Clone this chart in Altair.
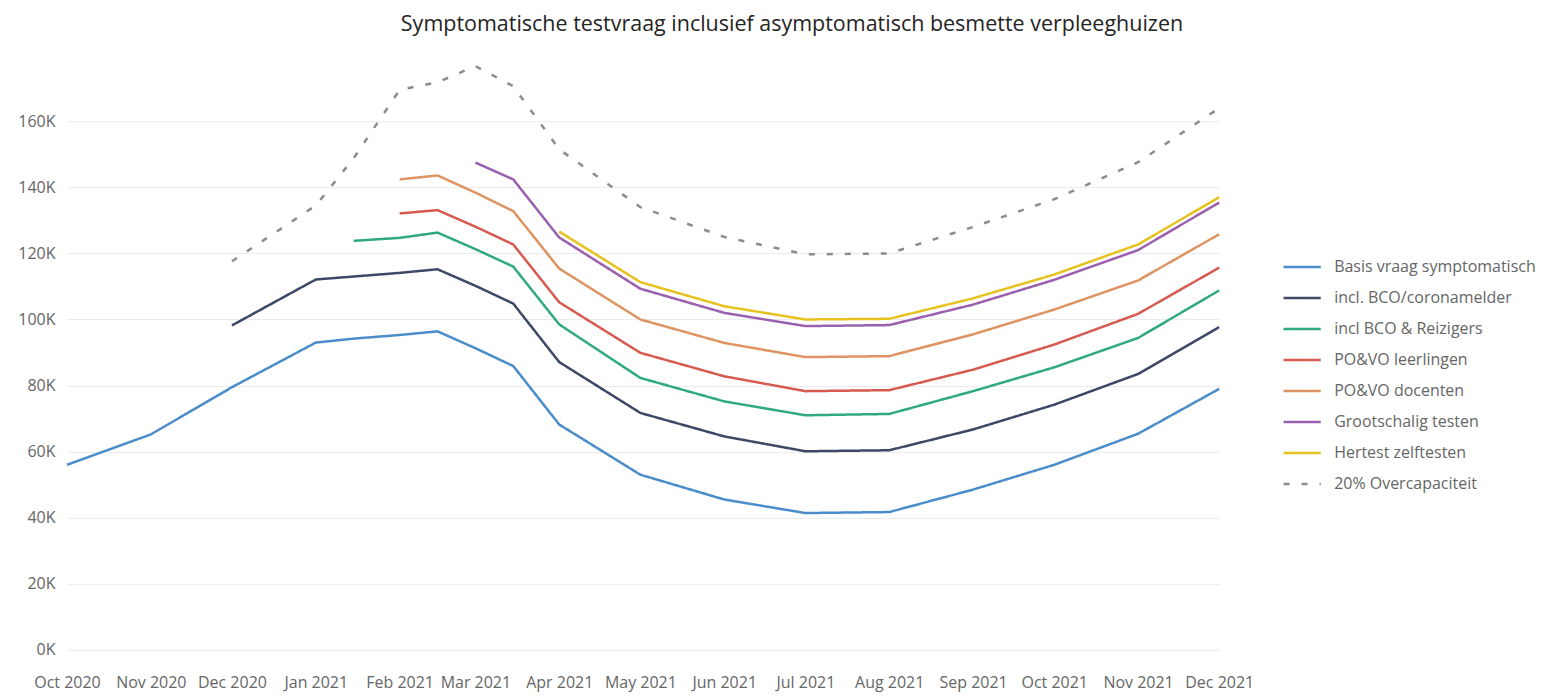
import altair as alt
import pandas as pd

title_text = "Symptomatische testvraag inclusief asymptomatisch besmette verpleeghuizen"

dates = ["2020-10-01", "2020-11-01", "2020-12-01", "2021-01-01", "2021-01-15",
         "2021-02-01", "2021-02-15", "2021-03-01", "2021-03-15", "2021-04-01",
         "2021-05-01", "2021-06-01", "2021-07-01", "2021-08-01", "2021-09-01",
         "2021-10-01", "2021-11-01", "2021-12-01"]

series_names = ["Basis vraag symptomatisch", "incl. BCO/coronamelder", "incl BCO & Reizigers",
                "PO&VO leerlingen", "PO&VO docenten", "Grootschalig testen",
                "Hertest zelftesten", "20% Overcapaciteit"]

# values in thousands (K)
basis = [56.0, 65.2, 79.5, 93.0, 94.2, 95.3, 96.4, 91.3, 85.9, 68.2, 53.0, 45.5, 41.4, 41.7, 48.5, 56.0, 65.4, 79.0]
bco = [None, None, 98.2, 112.1, 113.0, 114.1, 115.2, 110.2, 104.8, 87.1, 71.7, 64.6, 60.1, 60.4, 66.7, 74.2, 83.5, 97.7]
reizigers = [None, None, None, None, 123.8, 124.7, 126.3, 121.3, 116.0, 98.5, 82.3, 75.2, 71.0, 71.4, 78.3, 85.5, 94.4, 108.8]
leerlingen = [None, None, None, None, None, 132.1, 133.1, 128.1, 122.7, 105.2, 89.9, 82.8, 78.3, 78.6, 84.8, 92.4, 101.7, 115.7]
docenten = [None, None, None, None, None, 142.4, 143.6, 138.4, 132.8, 115.4, 100.0, 92.9, 88.6, 88.9, 95.5, 103.0, 111.8, 125.8]
grootschalig = [None, None, None, None, None, None, None, 147.5, 142.4, 124.8, 109.3, 102.0, 98.0, 98.3, 104.5, 112.0, 121.0, 135.4]
hertest = [None, None, None, None, None, None, None, None, None, 126.6, 111.3, 104.0, 100.0, 100.2, 106.4, 113.6, 122.7, 137.0]
overcap = [None, None, 117.6, 134.5, 148.8, 169.5, 171.8, 176.7, 170.6, 151.5, 134.0, 125.0, 119.7, 120.0, 128.0, 136.4, 147.6, 164.0]

colors = ["#4A8DCA", "#3D4866", "#2FAA7F", "#D65A4F", "#DE9462", "#9A60AF", "#E7C21E", "#8C8C8C"]
dashes = [[1, 0], [1, 0], [1, 0], [1, 0], [1, 0], [1, 0], [1, 0], [6, 12]]

y_ticks = [0, 20, 40, 60, 80, 100, 120, 140, 160]
month_ticks = [(2020, 10), (2020, 11), (2020, 12), (2021, 1), (2021, 2), (2021, 3), (2021, 4),
               (2021, 5), (2021, 6), (2021, 7), (2021, 8), (2021, 9), (2021, 10), (2021, 11), (2021, 12)]

all_series = [basis, bco, reizigers, leerlingen, docenten, grootschalig, hertest, overcap]
rows = []
for name, vals in zip(series_names, all_series):
    for d, v in zip(dates, vals):
        if v is not None:
            rows.append({"date": d, "series": name, "value": v})
df = pd.DataFrame(rows)

FONT = "Open Sans"
LABEL_COLOR = "#666666"

legend = alt.Legend(
    title=None, orient="none", legendX=1219, legendY=195, direction="vertical",
    symbolType="M-1.2,0H1.2", symbolSize=961, symbolStrokeWidth=2.5,
    labelFont=FONT, labelFontSize=16, labelColor=LABEL_COLOR, labelOffset=15,
    labelLimit=400, rowPadding=6, padding=0,
)

chart = alt.Chart(df).mark_line(strokeWidth=2.5).encode(
    x=alt.X(
        "date:T",
        scale=alt.Scale(type="utc", nice=False,
                        domain=[alt.DateTime(year=2020, month=10, date=1, utc=True),
                                alt.DateTime(year=2021, month=12, date=1, utc=True)]),
        axis=alt.Axis(
            values=[alt.DateTime(year=y, month=m, date=1, utc=True) for y, m in month_ticks],
            labelExpr="utcFormat(datum.value, '%b %Y')", title=None, grid=False, ticks=False, domain=False,
            labelPadding=25, labelFont=FONT, labelFontSize=16, labelColor=LABEL_COLOR,
            labelOverlap=False, labelFlush=False,
        ),
    ),
    y=alt.Y(
        "value:Q",
        scale=alt.Scale(domain=[0, 180], nice=False),
        axis=alt.Axis(
            values=y_ticks, labelExpr="datum.value + 'K'", title=None, ticks=False, domain=False,
            grid=True, gridColor="#EBEBEB", gridWidth=1, labelPadding=12,
            labelFont=FONT, labelFontSize=16, labelColor=LABEL_COLOR,
        ),
    ),
    color=alt.Color("series:N", scale=alt.Scale(domain=series_names, range=colors), legend=legend),
    strokeDash=alt.StrokeDash("series:N", scale=alt.Scale(domain=series_names, range=dashes), legend=legend),
).properties(
    width=1153,
    height=595,
    padding={"left": 59, "top": 47, "right": 330, "bottom": 45},
    autosize=alt.AutoSizeParams(type="none"),
    title=alt.Title(title_text, anchor="middle", frame="group", dx=149, offset=20,
                    font=FONT, fontSize=21.5, fontWeight="normal", color="#252423"),
).configure_view(stroke=None)

chart.save("out.html", embed_options={"renderer": "svg", "actions": False})
